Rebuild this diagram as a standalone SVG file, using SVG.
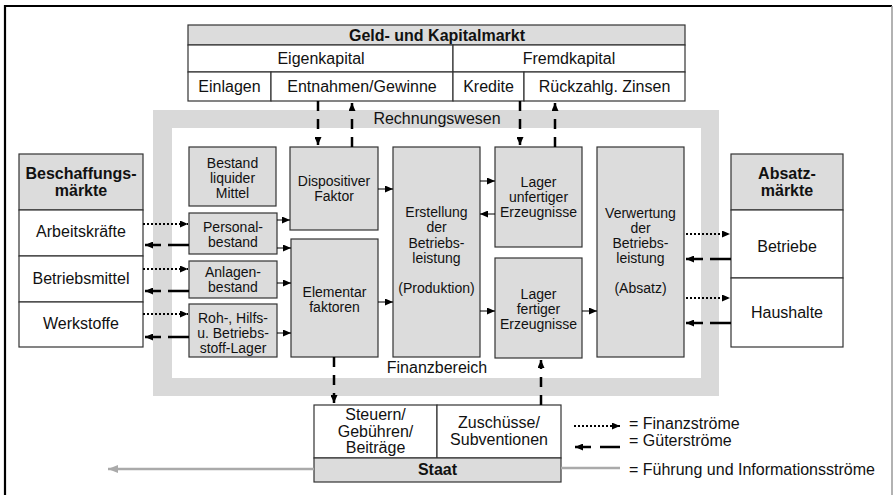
<svg xmlns="http://www.w3.org/2000/svg" width="895" height="495" viewBox="0 0 895 495">
<defs>
<style>
.box{fill:#dcdcdc;stroke:#333;stroke-width:1.2}
.wbox{fill:#fff;stroke:#333;stroke-width:1.2}
text{font-family:"Liberation Sans",Arial,Helvetica,sans-serif;font-size:14px;text-anchor:middle;fill:#111}
.l{font-size:16px}
.b{font-weight:bold}
.st{text-anchor:start}
.fin{stroke:#000;stroke-width:2;stroke-dasharray:2 2;fill:none;marker-end:url(#ah)}
.gut{stroke:#000;stroke-width:2.5;stroke-dasharray:21 7;fill:none;marker-end:url(#ah)}
.gutv{stroke:#000;stroke-width:2.5;stroke-dasharray:10 8;fill:none;marker-end:url(#ah)}
.sol{stroke:#000;stroke-width:1;fill:none;marker-end:url(#ahs)}
.info{stroke:#aaa;stroke-width:2.5;fill:none}
</style>
<marker id="ah" markerUnits="userSpaceOnUse" viewBox="0 0 8 7" refX="8" refY="3.5" markerWidth="8" markerHeight="7" orient="auto"><path d="M0,0 L8,3.5 L0,7 z" fill="#000"/></marker>
<marker id="ahs" markerUnits="userSpaceOnUse" viewBox="0 0 8 7" refX="8" refY="3.5" markerWidth="8" markerHeight="7" orient="auto"><path d="M0,0 L8,3.5 L0,7 z" fill="#000"/></marker>
<marker id="ahg" markerUnits="userSpaceOnUse" viewBox="0 0 10 8" refX="10" refY="4" markerWidth="10" markerHeight="8" orient="auto"><path d="M0,0 L10,4 L0,8 z" fill="#aaa"/></marker>
</defs>
<rect x="0" y="0" width="895" height="495" fill="#fff"/>
<g id="border">
<line x1="4" y1="6" x2="892" y2="6" stroke="#000" stroke-width="2"/>
<line x1="5" y1="5" x2="5" y2="495" stroke="#000" stroke-width="2.2"/>
<line x1="892" y1="6" x2="892" y2="495" stroke="#999" stroke-width="1.5"/>
</g>
<g id="rechnungswesen">
<path d="M153,110 H719 V396 H153 Z M172,128 V378 H701 V128 Z" fill="#d9d9d9" fill-rule="evenodd"/>
<text class="l" x="437" y="124">Rechnungswesen</text>
<text class="l" x="437" y="373">Finanzbereich</text>
</g>
<g id="kapitalmarkt">
<rect class="box" x="188" y="25" width="497" height="20"/>
<text class="l b" x="437" y="41">Geld- und Kapitalmarkt</text>
<rect class="wbox" x="188" y="45" width="265" height="27"/>
<rect class="wbox" x="453" y="45" width="232" height="27"/>
<text class="l" x="321" y="64">Eigenkapital</text>
<text class="l" x="569" y="64">Fremdkapital</text>
<rect class="wbox" x="188" y="72" width="83" height="29"/>
<rect class="wbox" x="271" y="72" width="182" height="29"/>
<rect class="wbox" x="453" y="72" width="71" height="29"/>
<rect class="wbox" x="524" y="72" width="161" height="29"/>
<text class="l" x="229.5" y="92">Einlagen</text>
<text class="l" x="362" y="92">Entnahmen/Gewinne</text>
<text class="l" x="488.5" y="92">Kredite</text>
<text class="l" x="604.5" y="92">Rückzahlg. Zinsen</text>
</g>
<g id="beschaffungsmaerkte">
<rect class="box" x="19" y="154" width="124" height="56"/>
<text class="l b" x="81" y="179">Beschaffungs-</text>
<text class="l b" x="81" y="196">märkte</text>
<rect class="wbox" x="19" y="210" width="124" height="46"/>
<text class="l" x="81" y="237">Arbeitskräfte</text>
<rect class="wbox" x="19" y="256" width="124" height="46"/>
<text class="l" x="81" y="284">Betriebsmittel</text>
<rect class="wbox" x="19" y="302" width="124" height="45"/>
<text class="l" x="81" y="329">Werkstoffe</text>
</g>
<g id="absatzmaerkte">
<rect class="box" x="731" y="154" width="112" height="56"/>
<text class="l b" x="787" y="179">Absatz-</text>
<text class="l b" x="787" y="196">märkte</text>
<rect class="wbox" x="731" y="210" width="112" height="68"/>
<text class="l" x="787" y="252">Betriebe</text>
<rect class="wbox" x="731" y="278" width="112" height="69"/>
<text class="l" x="787" y="318">Haushalte</text>
</g>
<g id="bestand">
<rect class="box" x="189" y="147" width="87" height="59"/>
<text x="232.5" y="168">Bestand</text>
<text x="232.5" y="183">liquider</text>
<text x="232.5" y="198">Mittel</text>
</g>
<g id="personal">
<rect class="box" x="189" y="213" width="88" height="41"/>
<text x="233" y="232">Personal-</text>
<text x="233" y="247">bestand</text>
</g>
<g id="anlagen">
<rect class="box" x="189" y="261" width="88" height="37"/>
<text x="233" y="277">Anlagen-</text>
<text x="233" y="292">bestand</text>
</g>
<g id="rohstoffe">
<rect class="box" x="189" y="304" width="88" height="53"/>
<text x="233" y="323">Roh-, Hilfs-</text>
<text x="233" y="338">u. Betriebs-</text>
<text x="233" y="353">stoff-Lager</text>
</g>
<g id="dispositiv">
<rect class="box" x="290" y="147" width="88" height="83"/>
<text x="334" y="186">Dispositiver</text>
<text x="334" y="201">Faktor</text>
</g>
<g id="elementar">
<rect class="box" x="291" y="239" width="87" height="118"/>
<text x="334.5" y="297">Elementar</text>
<text x="334.5" y="312">faktoren</text>
</g>
<g id="erstellung">
<rect class="box" x="393" y="147" width="87" height="210"/>
<text x="436.5" y="217">Erstellung</text>
<text x="436.5" y="232">der</text>
<text x="436.5" y="248">Betriebs-</text>
<text x="436.5" y="263">leistung</text>
<text x="436.5" y="293">(Produktion)</text>
</g>
<g id="lager_unfertig">
<rect class="box" x="495" y="147" width="87" height="100"/>
<text x="538.5" y="187">Lager</text>
<text x="538.5" y="202">unfertiger</text>
<text x="538.5" y="217">Erzeugnisse</text>
</g>
<g id="lager_fertig">
<rect class="box" x="495" y="258" width="87" height="100"/>
<text x="538.5" y="299">Lager</text>
<text x="538.5" y="314">fertiger</text>
<text x="538.5" y="329">Erzeugnisse</text>
</g>
<g id="verwertung">
<rect class="box" x="597" y="147" width="87" height="210"/>
<text x="640.5" y="218">Verwertung</text>
<text x="640.5" y="233">der</text>
<text x="640.5" y="248">Betriebs-</text>
<text x="640.5" y="263">leistung</text>
<text x="640.5" y="293">(Absatz)</text>
</g>
<g id="staat">
<rect class="wbox" x="314" y="405" width="123" height="53"/>
<rect class="wbox" x="437" y="405" width="124" height="53"/>
<rect class="box" x="314" y="458" width="247" height="24"/>
<text class="l" x="375.5" y="420">Steuern/</text>
<text class="l" x="375.5" y="437">Gebühren/</text>
<text class="l" x="375.5" y="453">Beiträge</text>
<text class="l" x="499" y="428">Zuschüsse/</text>
<text class="l" x="499" y="445">Subventionen</text>
<text class="l b" x="437.5" y="475">Staat</text>
</g>
<g id="connectors">
<path class="gutv" d="M318,101 V145"/>
<path class="gutv" d="M352,147 V103"/>
<path class="gutv" d="M520,101 V145"/>
<path class="gutv" d="M555,147 V103"/>
<path class="gutv" d="M334,357 V403"/>
<path class="gutv" d="M541,405 V360"/>
<path class="fin" d="M143,224 H188"/>
<path class="fin" d="M143,269 H188"/>
<path class="fin" d="M143,314 H188"/>
<path class="gut" d="M189,245 H145"/>
<path class="gut" d="M189,291 H145"/>
<path class="gut" d="M189,337 H145"/>
<path class="fin" d="M686,234 H730"/>
<path class="fin" d="M686,298 H730"/>
<path class="gut" d="M731,259 H686"/>
<path class="gut" d="M731,323 H686"/>
<path class="sol" d="M277,220 H290"/>
<path class="sol" d="M277,248 H291"/>
<path class="sol" d="M277,283 H291"/>
<path class="sol" d="M277,333 H291"/>
<path class="sol" d="M378,189 H393"/>
<path class="sol" d="M378,302 H393"/>
<path class="sol" d="M480,181 H495"/>
<path class="sol" d="M495,214 H480"/>
<path class="sol" d="M480,311 H495"/>
<path class="sol" d="M582,311 H597"/>
<path class="info" d="M314,469 H108" marker-end="url(#ahg)"/>
</g>
<g id="legende">
<path class="fin" d="M574,426 H620"/>
<path class="gut" style="stroke-dasharray:20 9" d="M620,447 H575"/>
<path class="info" d="M561,468 H620"/>
<text class="l st" x="629" y="429">= Finanzströme</text>
<text class="l st" x="629" y="446">= Güterströme</text>
<text class="l st" x="629" y="475">= Führung und Informationsströme</text>
</g>
</svg>
